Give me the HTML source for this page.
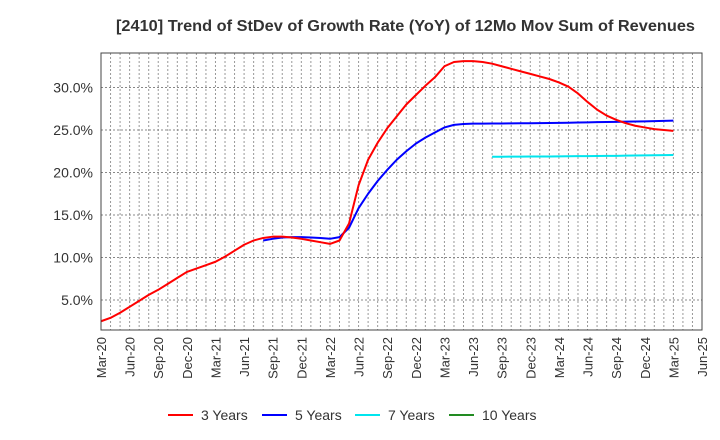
<!DOCTYPE html>
<html><head><meta charset="utf-8"><style>
body{margin:0;background:#fff;}
svg{display:block;font-family:"Liberation Sans",Arial,sans-serif;}
</style></head><body>
<svg id="chart" width="720" height="440" viewBox="0 0 720 440" xmlns="http://www.w3.org/2000/svg">
<text x="116" y="31" textLength="579" lengthAdjust="spacingAndGlyphs" font-size="15.5" font-weight="bold" fill="#333">[2410]  Trend of StDev of Growth Rate (YoY) of 12Mo Mov Sum of Revenues</text>
<g id="grid"></g>
<g id="yaxis"></g>
<g id="xaxis"></g>
<g id="series"></g>
<rect x="101" y="53" width="601" height="277" fill="none" stroke="#444" stroke-width="1"/>
<g font-size="14" fill="#333">
<g><line x1="168" y1="415" x2="193" y2="415" stroke="#ff0000" stroke-width="2"/><text x="201" y="420">3 Years</text></g>
<g><line x1="262" y1="415" x2="287" y2="415" stroke="#0000ff" stroke-width="2"/><text x="295" y="420">5 Years</text></g>
<g><line x1="355" y1="415" x2="380" y2="415" stroke="#00e5ee" stroke-width="2"/><text x="388" y="420">7 Years</text></g>
<g><line x1="449" y1="415" x2="474" y2="415" stroke="#228b22" stroke-width="2"/><text x="482" y="420">10 Years</text></g>
</g>
</svg>
<script>
const xTickLabels=["Mar-20","Jun-20","Sep-20","Dec-20","Mar-21","Jun-21","Sep-21","Dec-21","Mar-22","Jun-22","Sep-22","Dec-22","Mar-23","Jun-23","Sep-23","Dec-23","Mar-24","Jun-24","Sep-24","Dec-24","Mar-25","Jun-25"];
const yTicks=[5,10,15,20,25,30];
const red3=[2.5,2.9,3.5,4.2,4.9,5.6,6.2,6.9,7.6,8.3,
8.7,9.1,9.5,10.1,10.8,11.5,12.0,12.3,12.45,12.45,12.35,12.2,
12.0,11.8,11.6,12.0,14.0,18.5,21.5,23.5,25.2,26.6,28.0,29.1,
30.2,31.2,32.5,33.0,33.1,33.1,33.0,32.8,32.5,32.2,31.9,31.6,
31.3,31.0,30.6,30.1,29.3,28.3,27.4,26.7,26.2,25.8,25.5,25.3,
25.1,25.0,24.9];
const blue5Start=17;
const blue5=[12.0,12.2,12.35,12.4,12.4,12.35,12.3,12.2,12.4,13.5,15.8,17.5,19.0,20.3,21.5,22.5,23.4,24.1,24.7,25.3,25.6,25.7,25.75,
25.75,25.76,25.77,25.78,25.79,25.8,25.81,25.82,25.84,25.86,25.88,25.9,25.92,25.94,25.96,25.98,26.0,26.02,26.05,26.08,26.1];
const cyan7Start=41;
const cyan7=[21.86,21.86,21.87,21.87,21.88,21.88,21.89,21.9,21.91,21.92,21.93,21.94,21.95,21.96,21.98,22.0,22.02,22.03,22.05,22.06];
const NS="http://www.w3.org/2000/svg";
const X0=101,X1=702,Y0=53,Y1=330,months=63;
const xs=m=>X0+(X1-X0)*m/months;
const ys=v=>342.5-v*8.5;
function mk(t,p,a){const e=document.createElementNS(NS,t);for(const k in a)e.setAttribute(k,a[k]);p.appendChild(e);return e;}
const grid=document.getElementById('grid'),ya=document.getElementById('yaxis'),xa=document.getElementById('xaxis'),ser=document.getElementById('series');
for(let m=1;m<months;m++){
 const g=mk('line',grid,{x1:xs(m),x2:xs(m),y1:Y0,y2:Y1,stroke:'#999','stroke-dasharray':'2,2','stroke-width':1});
 
 
}
yTicks.forEach(v=>{
 const g=mk('line',grid,{x1:X0,x2:X1,y1:ys(v),y2:ys(v),stroke:'#888','stroke-dasharray':'2,2','stroke-width':1});
 
 
 const t=mk('text',ya,{x:93,y:ys(v)+5,'text-anchor':'end','font-size':14,fill:'#333'});
 t.textContent=v.toFixed(1)+'%';
 
 
});
xTickLabels.forEach((l,i)=>{
 const x=xs(i*3);
 const t=mk('text',xa,{x:0,y:0,'text-anchor':'end','font-size':13,fill:'#333',transform:`translate(${x+5},${337}) rotate(-90)`});
 t.textContent=l;
 
 
});
function path(vals,start,color,name){
 const d=vals.map((v,i)=>(i?'L':'M')+xs(start+i).toFixed(2)+','+ys(v).toFixed(2)).join(' ');
 const p=mk('path',ser,{d:d,fill:'none',stroke:color,'stroke-width':2,'stroke-linejoin':'round'});
 
 
}
path(cyan7,cyan7Start,'#00e5ee','line-7-years');
path(blue5,blue5Start,'#0000ff','line-5-years');
path(red3,0,'#ff0000','line-3-years');
</script>
</body></html>
